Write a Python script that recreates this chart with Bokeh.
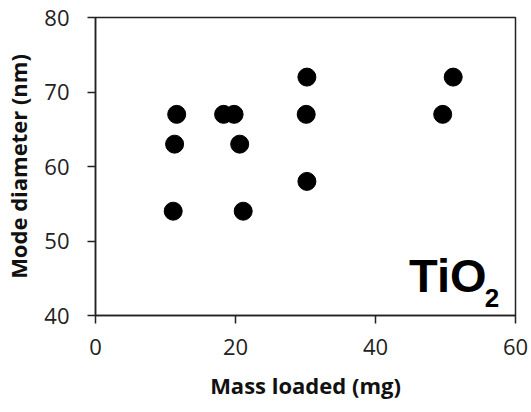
from bokeh.plotting import figure
from bokeh.models import Label, Range1d, FixedTicker
from bokeh.embed import file_html
from bokeh.resources import INLINE

# Data
mass_loaded = [11.1, 11.3, 11.6, 18.3, 19.8, 20.6, 21.1, 30.2, 30.1, 30.2, 49.6, 51.1]
mode_diameter = [54, 63, 67, 67, 67, 63, 54, 72, 67, 58, 67, 72]
x_ticks = [0, 20, 40, 60]
y_ticks = [40, 50, 60, 70, 80]

p = figure(
    frame_width=420, frame_height=298,
    min_border_left=94, min_border_right=17, min_border_top=17, min_border_bottom=97,
    x_range=Range1d(0, 60), y_range=Range1d(40, 80),
    output_backend="svg", toolbar_location=None,
)
p.width = 531
p.height = 412

p.scatter(mass_loaded, mode_diameter, size=18, color="black")

p.xgrid.visible = False
p.ygrid.visible = False
p.outline_line_color = "#222222"
p.outline_line_width = 1.5

for ax in (p.xaxis[0], p.yaxis[0]):
    ax.axis_line_color = "#222222"
    ax.axis_line_width = 1.5
    ax.major_tick_line_color = "#222222"
    ax.major_tick_line_width = 1.5
    ax.major_tick_out = 8
    ax.major_tick_in = 0
    ax.minor_tick_line_color = None
    ax.major_label_text_font = "Open Sans"
    ax.major_label_text_font_size = "22px"
    ax.major_label_text_color = "#222222"
    ax.axis_label_text_font = "Open Sans"
    ax.axis_label_text_font_style = "bold"
    ax.axis_label_text_font_size = "22px"
    ax.axis_label_text_color = "#111111"

p.xaxis[0].ticker = FixedTicker(ticks=x_ticks)
p.yaxis[0].ticker = FixedTicker(ticks=y_ticks)
p.xaxis[0].axis_label = "Mass loaded (mg)"
p.yaxis[0].axis_label = "Mode diameter (nm)"
p.xaxis[0].major_label_standoff = 15
p.yaxis[0].major_label_standoff = 18
p.xaxis[0].axis_label_standoff = 12
p.yaxis[0].axis_label_standoff = 8

p.add_layout(Label(x=44.8, y=45.4, text="TiO", text_font="Liberation Sans",
                   text_font_style="bold", text_font_size="47px",
                   text_baseline="alphabetic", text_color="black"))
p.add_layout(Label(x=55.6, y=42.3, text="2", text_font="Liberation Sans",
                   text_font_style="bold", text_font_size="26px",
                   text_baseline="alphabetic", text_color="black"))

open("out.html", "w").write(file_html(p, INLINE))
